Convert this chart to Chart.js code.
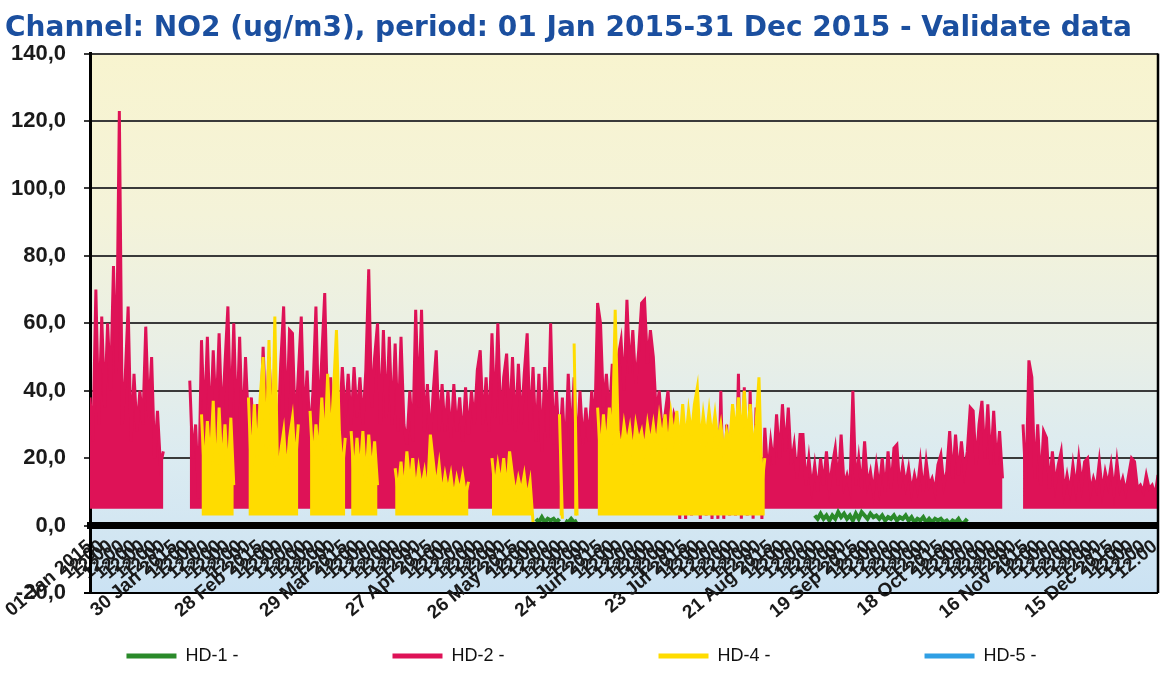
<!DOCTYPE html>
<html>
<head>
<meta charset="utf-8">
<title>NO2 2015 - Validate data</title>
<script src="https://cdn.jsdelivr.net/npm/chart.js@4.4.1/dist/chart.umd.min.js"></script>
<style>
  html, body { margin: 0; padding: 0; background: #fff; }
  #wrap { width: 1174px; height: 675px; }
</style>
</head>
<body>
<div id="wrap"><canvas id="no2Chart" width="1174" height="675"></canvas></div>
<script>
// upper profile of each trace, one value per day (index 0 = 01 Jan 2015)
var hd2 = [
  // Jan
  38, 25, 70, 30, 62, 35, 60, 40, 77, 45, 123, 30, 44, 65, 25, 45, 28, 40, 30, 59, 32, 50, 20, 34, 18, 22, null, null, null, null, null,
  // Feb
  null, null, null, 43, 20, 30, 8, 55, 30, 56, 28, 52, 32, 57, 30, 48, 65, 30, 60, 28, 56, 26, 50, 30, 38, 22, 36, 24,
  // Mar
  53, 30, 50, 32, 40, 25, 48, 65, 30, 58, 57, 28, 45, 62, 30, 46, 26, 40, 65, 30, 50, 69, 32, 44, 28, 40, 30, 47, 32, 45, 30,
  // Apr
  47, 32, 44, 30, 46, 76, 35, 50, 60, 30, 58, 32, 56, 30, 54, 28, 56, 30, 24, 40, 25, 64, 35, 64, 28, 42, 25, 40, 52, 28,
  // May
  42, 28, 40, 26, 42, 28, 38, 25, 41, 27, 40, 30, 46, 52, 30, 44, 28, 57, 32, 60, 30, 44, 51, 30, 50, 28, 48, 30, 45, 57, 28,
  // Jun
  47, 25, 45, 22, 47, 26, 60, 24, 40, 22, 38, 20, 45, 24, 44, 22, 40, 24, 35, 25, 40, 28, 66, 60, 35, 45, 32, 48, 35, 50,
  // Jul
  55, 40, 67, 45, 58, 42, 52, 66, 67, 48, 58, 50, 33, 40, 28, 33, 40, 26, 33, 30, 2, 28, 2, 30, 3, 26, 28, 2, 26, 3, 26,
  // Aug
  2, 28, 2, 40, 2, 30, 3, 35, 3, 45, 2, 41, 3, 40, 2, 35, 30, 2, 29, 15, 25, 18, 33, 20, 36, 22, 35, 18, 24, 14, 27,
  // Sep
  27, 12, 20, 11, 18, 10, 20, 12, 22, 11, 18, 23, 12, 27, 12, 15, 11, 40, 12, 20, 11, 25, 12, 16, 10, 18, 11, 20, 10, 22,
  // Oct
  11, 23, 24, 11, 18, 12, 17, 10, 15, 11, 19, 10, 19, 12, 14, 10, 18, 21, 12, 16, 28, 14, 27, 15, 25, 16, 22, 35, 34, 18, 30,
  // Nov
  37, 20, 36, 18, 34, 18, 28, 14, null, null, null, null, null, null, 30, 12, 49, 44, 14, 30, 12, 28, 26, 11, 22, 12, 18, 22, 10, 15,
  // Dec
  10, 18, 11, 20, 12, 19, 20, 10, 14, 11, 19, 10, 16, 12, 18, 10, 19, 11, 14, 10, 15, 20, 19, 11, 12, 10, 15, 11, 12, 9, 15
];

var hd4Start = 38; // 08 Feb
var hd4 = [
  33, 15, 31, 18, 37, 12, 35, 16, 30, 14, 32, 12, null, null, null, null, 38, 16, 36, 20, 38,
  50, 20, 55, 18, 62, 12, 22, 28, 15, 26, 32, 18, 30, null, null, null, 34, 18, 30, 20, 38, 22, 45, 24, 40, 58, 28, 16, 26, null, 28,
  14, 26, 15, 28, 13, 27, 15, 25, 12, null, null, null, null, null, 17, 10, 19, 9, 22, 12, 20, 10, 17, 11, 16, 9, 27, 19, 11, 18,
  9, 15, 10, 15, 8, 14, 10, 15, 9, 13, null, null, null, null, null, null, null, 20, 11, 18, 12, 20, 10, 22, 15, 9, 14, 10, 15, 8, 13,
  1, null, null, null, null, null, null, null, null, 33, 2, null, null, null, 54, 3, null, null, null, null, null, null, 35, 20, 33, 22, 35, 24, 64, 28,
  22, 30, 24, 29, 21, 30, 25, 28, 22, 30, 24, 30, 23, 32, 25, 33, 22, 33, 26, 34, 24, 36, 25, 34, 27, 36, 41, 24, 33, 26, 34,
  26, 33, 25, 30, 22, 28, 24, 36, 27, 38, 26, 40, 25, 36, 22, 30, 44, 12, 20
];

var hd1aStart = 152; // 02 Jun
var hd1a = [2, 1, 2.5, 1, 2, 1.5, 2, 1, 2, null, 1.5, 1, 2, 1, 1.5];
var hd1bStart = 247; // 05 Sep
var hd1b = [
  3, 2, 3.5, 2, 3, 1.5, 3, 2, 4, 2.5, 3.5, 2, 3, 1.5, 3.5, 2, 4, 3, 2, 3.5,
  2.5, 3, 2, 3, 1.5, 2.5, 2, 3, 1.5, 2.5, 2, 3, 1.5, 2.5, 1, 2, 1.5, 2.5, 1, 2,
  1, 2, 1.5, 2, 1, 1.5, 0.5, 1.5, 1, 2, 0.5, 1, 2
];
var hd5 = [];

var seriesNames = ['HD-1 -', 'HD-2 -', 'HD-4 -', 'HD-5 -'];
var seriesColors = ['#2a8a2a', '#de1257', '#ffdc00', '#2f9fe4'];

// x ticks: dated ones every 29 days, the crowded time labels in between
var majorDays = [0, 29, 58, 87, 116, 145, 174, 203, 232, 261, 290, 319, 348];
var majorLabels = ['01 Jan 2015', '30 Jan 2015', '28 Feb 2015', '29 Mar 2015', '27 Apr 2015', '26 May 2015',
  '24 Jun 2015', '23 Jul 2015', '21 Aug 2015', '19 Sep 2015', '18 Oct 2015', '16 Nov 2015', '15 Dec 2015'];
var minorLabel = '12:00';
var tickDays = [
  0, 4, 7, 11, 15, 18, 22, 25, 29, 33, 36, 40, 44, 47, 51, 54,
  58, 62, 65, 69, 73, 76, 80, 83, 87, 91, 94, 98, 102, 105, 109, 112,
  116, 120, 123, 127, 131, 134, 138, 141, 145, 149, 152, 156, 160, 163, 167, 170,
  174, 178, 181, 185, 189, 192, 196, 199, 203, 207, 210, 214, 218, 221, 225, 228,
  232, 236, 239, 243, 247, 250, 254, 257, 261, 265, 268, 272, 276, 279, 283, 286,
  290, 294, 297, 301, 305, 308, 312, 315, 319, 323, 326, 330, 334, 337, 341, 344,
  348, 352, 355, 359, 363
];

function toPoints(values, start) {
  return values.map(function (v, i) { return {x: start + i, y: v}; });
}

function tickText(day) {
  var k = majorDays.indexOf(day);
  return k >= 0 ? majorLabels[k] : minorLabel;
}

var hd1Points = toPoints(hd1a, hd1aStart)
  .concat([{x: hd1aStart + hd1a.length, y: null}], toPoints(hd1b, hd1bStart));

// background gradient of the plot + right hand frame line
var plotFrame = {
  id: 'plotFrame',
  beforeDraw: function (chart) {
    var a = chart.chartArea, ctx = chart.ctx;
    var g = ctx.createLinearGradient(0, a.top, 0, a.bottom);
    g.addColorStop(0, '#f8f4cf');
    g.addColorStop(0.3, '#f4f3d9');
    g.addColorStop(0.55, '#e9efe6');
    g.addColorStop(0.75, '#dbebf1');
    g.addColorStop(1, '#cbe2f3');
    ctx.save();
    ctx.fillStyle = g;
    ctx.fillRect(a.left, a.top, a.right - a.left, a.bottom - a.top);
    ctx.restore();
  },
  afterDraw: function (chart) {
    var a = chart.chartArea, ctx = chart.ctx;
    ctx.save();
    ctx.strokeStyle = '#000';
    ctx.lineWidth = 2.5;
    ctx.beginPath();
    ctx.moveTo(a.right, a.top);
    ctx.lineTo(a.right, a.bottom);
    ctx.stroke();
    ctx.restore();
  }
};

var lineStyle = {borderWidth: 3, pointRadius: 0, tension: 0, spanGaps: false};

var ctx = document.getElementById('no2Chart').getContext('2d');
var no2Chart = new Chart(ctx, {
  type: 'line',
  data: {
    datasets: [
      Object.assign({label: seriesNames[0], data: hd1Points, borderColor: seriesColors[0], backgroundColor: seriesColors[0], order: 0, fill: false}, lineStyle, {borderWidth: 4}),
      // hourly traces are so dense that they read as solid bands: fill under the profile
      Object.assign({label: seriesNames[1], data: toPoints(hd2, 0), borderColor: seriesColors[1], backgroundColor: seriesColors[1], order: 2, fill: {value: 5}}, lineStyle),
      Object.assign({label: seriesNames[2], data: toPoints(hd4, hd4Start), borderColor: seriesColors[2], backgroundColor: seriesColors[2], order: 1, fill: {value: 3}}, lineStyle),
      Object.assign({label: seriesNames[3], data: toPoints(hd5, 0), borderColor: seriesColors[3], backgroundColor: seriesColors[3], order: 3, fill: false}, lineStyle)
    ]
  },
  plugins: [plotFrame],
  options: {
    responsive: false,
    animation: false,
    devicePixelRatio: 1,
    events: [],
    layout: {padding: {left: 5, right: 16, top: 0, bottom: 0}},
    scales: {
      x: {
        type: 'linear',
        min: 0,
        max: 364,
        position: {y: 0},
        grid: {display: false, drawTicks: false},
        border: {display: true, color: '#000', width: 7, z: 1},
        afterBuildTicks: function (axis) {
          axis.ticks = tickDays.map(function (d) { return {value: d}; });
        },
        // the slanted labels may run past the frame, as in the original
        afterFit: function (s) { s.paddingLeft = 0; s.paddingRight = 0; },
        ticks: {
          autoSkip: false,
          minRotation: 40,
          maxRotation: 40,
          padding: 10,
          color: '#1a1a1a',
          font: {family: "'Liberation Sans', Arial, sans-serif", size: 19, weight: 'bold'},
          callback: function (v) { return tickText(v); }
        }
      },
      y: {
        position: 'left',
        min: -20,
        max: 140,
        afterFit: function (s) { s.width = 85; },
        grid: {
          color: function (c) { return c.tick && c.tick.value === -20 ? '#000' : '#3a3a3a'; },
          lineWidth: 2,
          tickLength: 6
        },
        border: {display: true, color: '#000', width: 3},
        ticks: {
          stepSize: 20,
          padding: 18,
          color: '#1a1a1a',
          font: {family: "'Liberation Sans', Arial, sans-serif", size: 22, weight: 'bold'},
          callback: function (v) { return v.toFixed(1).replace('.', ','); }
        }
      }
    },
    plugins: {
      tooltip: {enabled: false},
      filler: {propagate: false},
      title: {
        display: true,
        text: 'Channel: NO2 (ug/m3), period: 01 Jan 2015-31 Dec 2015 - Validate data',
        align: 'start',
        color: '#1b4f9f',
        font: {family: "'DejaVu Sans', sans-serif", size: 28, weight: 'bold'},
        padding: {top: 12, bottom: 8}
      },
      legend: {
        position: 'bottom',
        labels: {
          boxWidth: 50,
          boxHeight: 5,
          padding: 54,
          color: '#111',
          font: {family: "'Liberation Sans', Arial, sans-serif", size: 18},
          sort: function (a, b) { return a.datasetIndex - b.datasetIndex; },
          generateLabels: function (chart) {
            var items = Chart.defaults.plugins.legend.labels.generateLabels(chart);
            items.forEach(function (it) {
              var col = chart.data.datasets[it.datasetIndex].borderColor;
              it.fillStyle = col;
              it.strokeStyle = col;
              it.lineWidth = 0;
              // trailing blanks spread the entries across the width like the original
              if (it.datasetIndex < 3) { it.text = it.text + ' '.repeat(20); }
            });
            return items;
          }
        }
      }
    }
  }
});
</script>
</body>
</html>
